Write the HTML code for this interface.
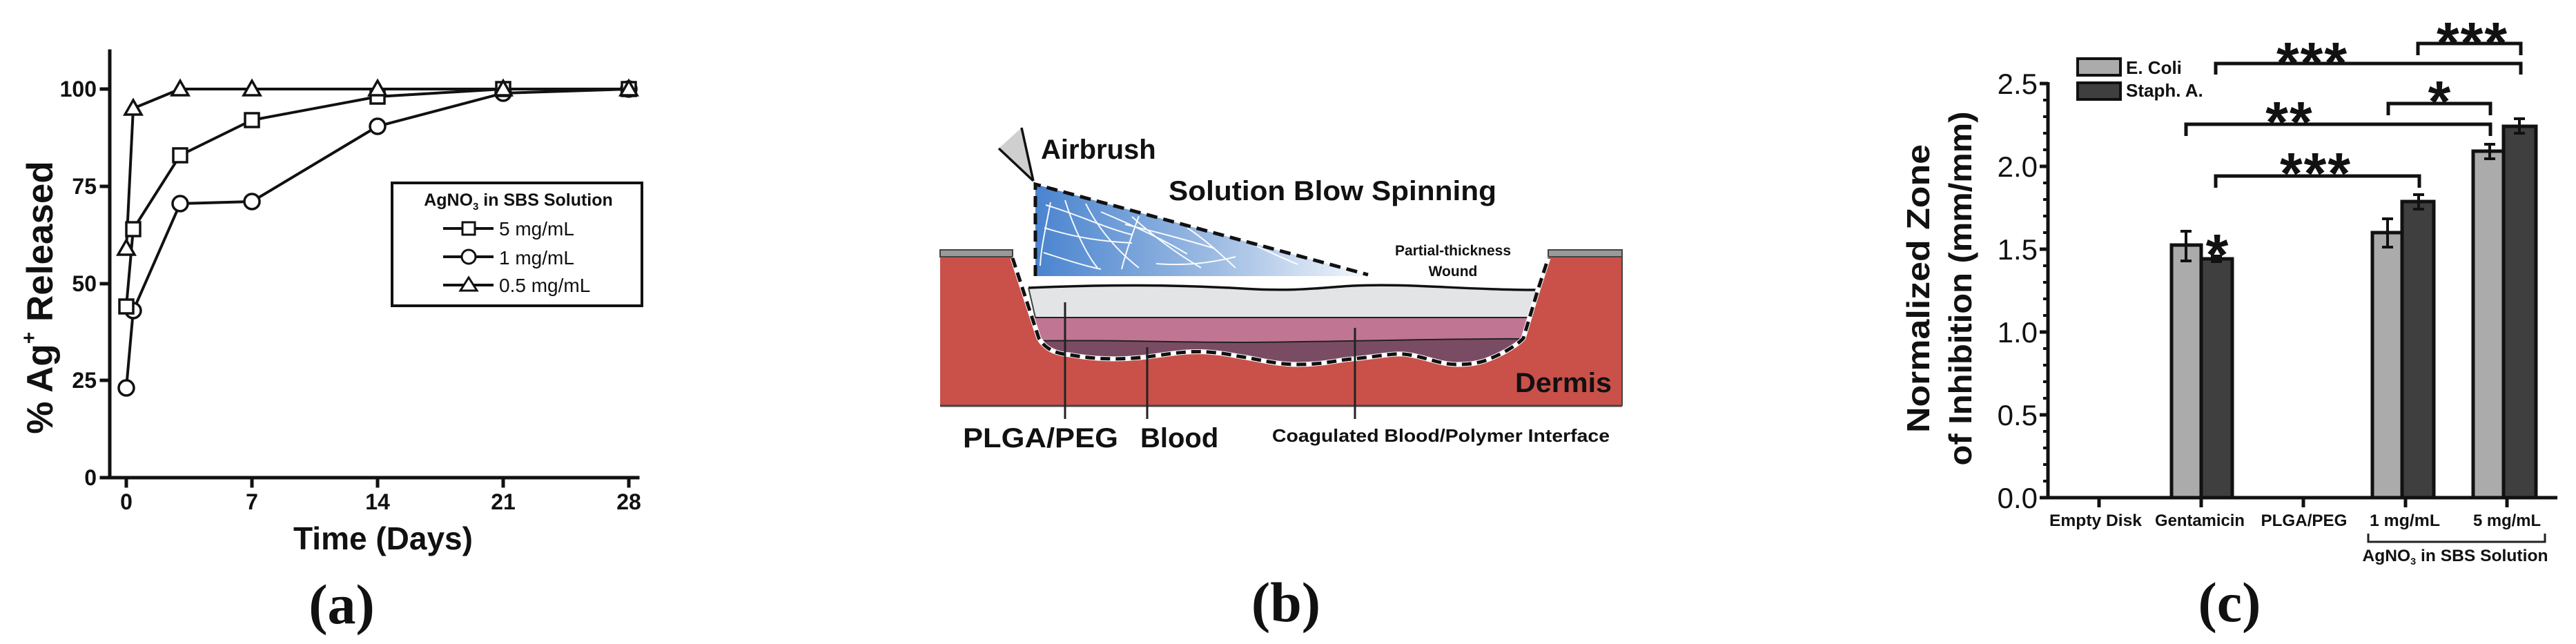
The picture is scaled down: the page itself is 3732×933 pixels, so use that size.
<!DOCTYPE html>
<html><head><meta charset="utf-8"><style>
html,body{margin:0;padding:0;background:#fff;}
svg{display:block;}
text{font-family:"Liberation Sans",Arial,sans-serif;fill:#111;}
.serif{font-family:"Liberation Serif","Times New Roman",serif;font-weight:bold;}
</style></head><body>
<svg width="3732" height="933" viewBox="0 0 3732 933" xmlns="http://www.w3.org/2000/svg">
<defs>
<linearGradient id="blue" x1="1500" y1="0" x2="1982" y2="0" gradientUnits="userSpaceOnUse">
<stop offset="0" stop-color="#4a84cf"/><stop offset="0.55" stop-color="#9fbde3"/><stop offset="1" stop-color="#f4f7fc"/>
</linearGradient>
<clipPath id="layers"><path d="M1490,417 C1600,412 1700,412 1800,418 C1880,423 1920,416 1960,414 C2040,410 2120,420 2225,420 L2207,490 C2200,498 2180,512 2150,523 C2140,526 2130,528 2110,528 C2085,528 2060,515 2033,513 C2015,512 2000,516 1960,520 C1940,521 1920,528 1880,528 C1850,528 1830,522 1800,517 C1790,516 1780,512 1750,510 C1720,508 1700,512 1662,517 C1620,522 1580,520 1550,514 Q1518,512 1505,490 Z"/></clipPath>
</defs>

<!-- ================= PANEL A ================= -->
<g stroke="#111" stroke-width="5" fill="none" stroke-linecap="square">
<line x1="159" y1="74" x2="159" y2="692"/>
<line x1="147" y1="692" x2="924" y2="692"/>
<line x1="147" y1="129" x2="159" y2="129"/>
<line x1="147" y1="270" x2="159" y2="270"/>
<line x1="147" y1="411" x2="159" y2="411"/>
<line x1="147" y1="551" x2="159" y2="551"/>
<line x1="183" y1="692" x2="183" y2="704"/>
<line x1="365" y1="692" x2="365" y2="704"/>
<line x1="547" y1="692" x2="547" y2="704"/>
<line x1="729" y1="692" x2="729" y2="704"/>
<line x1="911" y1="692" x2="911" y2="704"/>
</g>
<g font-size="32" font-weight="bold" text-anchor="end">
<text x="140" y="140">100</text><text x="140" y="281">75</text><text x="140" y="422">50</text><text x="140" y="562">25</text><text x="140" y="703">0</text>
</g>
<g font-size="32" font-weight="bold" text-anchor="middle">
<text x="183" y="738">0</text><text x="365" y="738">7</text><text x="547" y="738">14</text><text x="729" y="738">21</text><text x="911" y="738">28</text>
</g>
<text x="555" y="796" font-size="46" font-weight="bold" text-anchor="middle">Time (Days)</text>
<text transform="translate(76,431) rotate(-90)" font-size="53" font-weight="bold" text-anchor="middle">% Ag<tspan font-size="30" dy="-24">+</tspan><tspan dy="24"> Released</tspan></text>

<g stroke="#111" stroke-width="4" fill="none">
<polyline points="183,562 193,450 261,295 365,292 547,183 729,135 911,129"/>
<polyline points="183,444 193,332 261,225 365,174 547,140 729,129 911,129"/>
<polyline points="183,360 193,157 261,129 365,129 547,129 729,129 911,129"/>
</g>
<g stroke="#111" stroke-width="3.5" fill="#fff">
<circle cx="183" cy="562" r="11"/><circle cx="193" cy="450" r="11"/><circle cx="261" cy="295" r="11"/><circle cx="365" cy="292" r="11"/><circle cx="547" cy="183" r="11"/><circle cx="729" cy="135" r="11"/><circle cx="911" cy="129" r="11"/>
<rect x="173" y="434" width="20" height="20"/><rect x="183" y="322" width="20" height="20"/><rect x="251" y="215" width="20" height="20"/><rect x="355" y="164" width="20" height="20"/><rect x="537" y="130" width="20" height="20"/><rect x="719" y="119" width="20" height="20"/><rect x="901" y="119" width="20" height="20"/>
<polygon points="183,348 195,369 171,369"/><polygon points="193,145 205,166 181,166"/><polygon points="261,117 273,138 249,138"/><polygon points="365,117 377,138 353,138"/><polygon points="547,117 559,138 535,138"/><polygon points="729,117 741,138 717,138"/><polygon points="911,117 923,138 899,138"/>
</g>
<!-- legend -->
<rect x="568" y="265" width="362" height="178" fill="#fff" stroke="#111" stroke-width="4"/>
<text x="751" y="298" font-size="25" font-weight="bold" text-anchor="middle">AgNO<tspan font-size="15" dy="6">3</tspan><tspan dy="-6"> in SBS Solution</tspan></text>
<g stroke="#111" stroke-width="4"><line x1="642" y1="331" x2="715" y2="331"/><line x1="642" y1="372" x2="715" y2="372"/><line x1="642" y1="413" x2="715" y2="413"/></g>
<g stroke="#111" stroke-width="3" fill="#fff"><rect x="670" y="322" width="18" height="18"/><circle cx="679" cy="372" r="10"/><polygon points="679,402 691,421 667,421"/></g>
<g font-size="28"><text x="723" y="341">5 mg/mL</text><text x="723" y="383">1 mg/mL</text><text x="723" y="423">0.5 mg/mL</text></g>
<text x="495" y="903" class="serif" font-size="82" text-anchor="middle">(a)</text>

<!-- ================= PANEL B ================= -->
<rect x="1362" y="372" width="988" height="216" fill="#c9514a"/>
<line x1="1362" y1="588" x2="2350" y2="588" stroke="#444" stroke-width="3"/>
<line x1="2350" y1="362" x2="2350" y2="588" stroke="#444" stroke-width="2"/>
<rect x="1362" y="362" width="105" height="10" fill="#9a9a9a" stroke="#444" stroke-width="2"/>
<rect x="2243" y="362" width="107" height="10" fill="#9a9a9a" stroke="#444" stroke-width="2"/>
<path d="M1467,372 L1505,490 Q1518,512 1550,514 C1580,520 1620,522 1662,517 C1700,512 1720,508 1750,510 C1780,512 1790,516 1800,517 C1830,522 1850,528 1880,528 C1920,528 1940,521 1960,520 C2000,516 2015,512 2033,513 C2060,515 2085,528 2110,528 C2130,528 2140,526 2150,523 C2180,512 2200,498 2207,490 L2228,420 L2243,372 Z" fill="#fff"/>
<g clip-path="url(#layers)">
<rect x="1480" y="400" width="760" height="140" fill="#7a4c64"/>
<path d="M1480,400 L2240,400 L2240,492 C2100,490 1900,496 1800,496 C1700,496 1600,492 1480,494 Z" fill="#c07593"/>
<rect x="1480" y="400" width="760" height="60" fill="#e3e4e6"/>
</g>
<g fill="none" stroke="#222" stroke-width="2">
<line x1="1500" y1="460" x2="2218" y2="460"/>
<path d="M1505,494 C1600,492 1700,496 1800,496 C1900,496 2100,490 2205,491"/>
</g>
<path d="M1490,417 C1600,412 1700,412 1800,418 C1880,423 1920,416 1960,414 C2040,410 2120,420 2225,420" fill="none" stroke="#111" stroke-width="3.5"/>
<path d="M1490,417 L1500,460 M2225,420 L2212,470" fill="none" stroke="#444" stroke-width="2"/>
<path d="M1467,374 L1505,490 Q1518,512 1550,514 C1580,520 1620,522 1662,517 C1700,512 1720,508 1750,510 C1780,512 1790,516 1800,517 C1830,522 1850,528 1880,528 C1920,528 1940,521 1960,520 C2000,516 2015,512 2033,513 C2060,515 2085,528 2110,528 C2130,528 2140,526 2150,523 C2180,512 2200,498 2207,490 L2228,420 L2243,374" fill="none" stroke="#fff" stroke-width="7"/>
<path d="M1467,374 L1505,490 Q1518,512 1550,514 C1580,520 1620,522 1662,517 C1700,512 1720,508 1750,510 C1780,512 1790,516 1800,517 C1830,522 1850,528 1880,528 C1920,528 1940,521 1960,520 C2000,516 2015,512 2033,513 C2060,515 2085,528 2110,528 C2130,528 2140,526 2150,523 C2180,512 2200,498 2207,490 L2228,420 L2243,374" fill="none" stroke="#111" stroke-width="5" stroke-dasharray="14 8"/>
<polygon points="1500,267 1982,398 1982,400 1500,400" fill="url(#blue)"/>
<g fill="none" stroke="#fff" stroke-width="2" opacity="0.95">
<path d="M1515,297 C1560,310 1600,330 1640,340"/>
<path d="M1513,330 C1560,345 1600,350 1640,352"/>
<path d="M1522,293 C1515,330 1508,360 1507,385"/>
<path d="M1543,290 C1555,330 1575,370 1590,388"/>
<path d="M1573,295 C1590,330 1620,365 1650,388"/>
<path d="M1595,307 C1650,330 1690,350 1720,368"/>
<path d="M1512,366 C1540,375 1570,385 1595,390"/>
<path d="M1650,313 C1640,340 1630,370 1625,390"/>
<path d="M1640,314 C1680,350 1710,370 1740,388"/>
<path d="M1675,382 C1710,385 1750,382 1790,372"/>
<path d="M1720,330 C1750,350 1770,370 1790,388"/>
<path d="M1810,352 C1840,365 1860,375 1880,383"/>
<path d="M1630,325 C1670,335 1710,345 1760,360"/>
</g>
<path d="M1500,400 L1500,267 L1982,398" fill="none" stroke="#111" stroke-width="5" stroke-dasharray="16 9"/>
<polygon points="1447,215 1480,185 1497,262" fill="#cfcfcf"/>
<g stroke="#111" stroke-width="3.5" fill="none"><line x1="1480" y1="185" x2="1497" y2="262"/><line x1="1447" y1="215" x2="1497" y2="262"/></g>
<g stroke="#222" stroke-width="3"><line x1="1543" y1="438" x2="1543" y2="607"/><line x1="1662" y1="503" x2="1662" y2="607"/><line x1="1963" y1="475" x2="1963" y2="607"/></g>
<g font-weight="bold" fill="#222">
<text x="1508" y="230" font-size="40">Airbrush</text>
<text x="1693" y="290" font-size="40" textLength="475" lengthAdjust="spacingAndGlyphs">Solution Blow Spinning</text>
<text x="2105" y="370" font-size="21" text-anchor="middle">Partial-thickness</text>
<text x="2105" y="400" font-size="21" text-anchor="middle">Wound</text>
<text x="2195" y="568" font-size="40" textLength="140" lengthAdjust="spacingAndGlyphs">Dermis</text>
<text x="1395" y="648" font-size="40" textLength="225" lengthAdjust="spacingAndGlyphs">PLGA/PEG</text>
<text x="1652" y="648" font-size="40">Blood</text>
<text x="1843" y="640" font-size="26" textLength="489" lengthAdjust="spacingAndGlyphs">Coagulated Blood/Polymer Interface</text>
</g>
<text x="1863" y="900" class="serif" font-size="82" text-anchor="middle">(b)</text>

<!-- ================= PANEL C ================= -->
<g stroke="#111" stroke-width="5">
<rect x="3146" y="355" width="43" height="366" fill="#ababab"/>
<rect x="3189" y="375" width="45" height="346" fill="#3f3f3f"/>
<rect x="3437" y="337" width="43" height="384" fill="#ababab"/>
<rect x="3480" y="292" width="46" height="429" fill="#3f3f3f"/>
<rect x="3583" y="219" width="44" height="502" fill="#ababab"/>
<rect x="3627" y="183" width="47" height="538" fill="#3f3f3f"/>
</g>
<g stroke="#111" stroke-width="4">
<line x1="3167" y1="335" x2="3167" y2="378"/><line x1="3159" y1="335" x2="3175" y2="335"/><line x1="3159" y1="378" x2="3175" y2="378"/>
<line x1="3211" y1="371" x2="3211" y2="379"/><line x1="3203" y1="371" x2="3219" y2="371"/><line x1="3203" y1="379" x2="3219" y2="379"/>
<line x1="3459" y1="317" x2="3459" y2="358"/><line x1="3451" y1="317" x2="3467" y2="317"/><line x1="3451" y1="358" x2="3467" y2="358"/>
<line x1="3504" y1="282" x2="3504" y2="303"/><line x1="3496" y1="282" x2="3512" y2="282"/><line x1="3496" y1="303" x2="3512" y2="303"/>
<line x1="3607" y1="209" x2="3607" y2="230"/><line x1="3599" y1="209" x2="3615" y2="209"/><line x1="3599" y1="230" x2="3615" y2="230"/>
<line x1="3650" y1="172" x2="3650" y2="193"/><line x1="3642" y1="172" x2="3658" y2="172"/><line x1="3642" y1="193" x2="3658" y2="193"/>
</g>
<g stroke="#111" stroke-width="5" fill="none">
<line x1="2967" y1="119" x2="2967" y2="721"/>
<line x1="2955" y1="721" x2="3705" y2="721"/>
<line x1="2955" y1="121" x2="2967" y2="121"/><line x1="2955" y1="241" x2="2967" y2="241"/><line x1="2955" y1="361" x2="2967" y2="361"/><line x1="2955" y1="481" x2="2967" y2="481"/><line x1="2955" y1="601" x2="2967" y2="601"/>
<line x1="3041" y1="721" x2="3041" y2="735"/><line x1="3189" y1="721" x2="3189" y2="735"/><line x1="3337" y1="721" x2="3337" y2="735"/><line x1="3485" y1="721" x2="3485" y2="735"/><line x1="3632" y1="721" x2="3632" y2="735"/>
</g>
<g stroke="#111" stroke-width="4">
<line x1="2960" y1="145" x2="2967" y2="145"/><line x1="2960" y1="169" x2="2967" y2="169"/><line x1="2960" y1="193" x2="2967" y2="193"/><line x1="2960" y1="217" x2="2967" y2="217"/>
<line x1="2960" y1="265" x2="2967" y2="265"/><line x1="2960" y1="289" x2="2967" y2="289"/><line x1="2960" y1="313" x2="2967" y2="313"/><line x1="2960" y1="337" x2="2967" y2="337"/>
<line x1="2960" y1="385" x2="2967" y2="385"/><line x1="2960" y1="409" x2="2967" y2="409"/><line x1="2960" y1="433" x2="2967" y2="433"/><line x1="2960" y1="457" x2="2967" y2="457"/>
<line x1="2960" y1="505" x2="2967" y2="505"/><line x1="2960" y1="529" x2="2967" y2="529"/><line x1="2960" y1="553" x2="2967" y2="553"/><line x1="2960" y1="577" x2="2967" y2="577"/>
<line x1="2960" y1="625" x2="2967" y2="625"/><line x1="2960" y1="649" x2="2967" y2="649"/><line x1="2960" y1="673" x2="2967" y2="673"/><line x1="2960" y1="697" x2="2967" y2="697"/>
</g>
<g font-size="42" text-anchor="end" fill="#222">
<text x="2952" y="136">2.5</text><text x="2952" y="256">2.0</text><text x="2952" y="376">1.5</text><text x="2952" y="496">1.0</text><text x="2952" y="616">0.5</text><text x="2952" y="736">0.0</text>
</g>
<text transform="translate(2795,418) rotate(-90)" font-size="46" font-weight="bold" text-anchor="middle" textLength="418" lengthAdjust="spacingAndGlyphs">Normalized Zone</text>
<text transform="translate(2856,418) rotate(-90)" font-size="46" font-weight="bold" text-anchor="middle" textLength="513" lengthAdjust="spacingAndGlyphs">of Inhibition (mm/mm)</text>
<rect x="3010" y="85" width="62" height="24" fill="#ababab" stroke="#111" stroke-width="4"/>
<rect x="3010" y="120" width="62" height="24" fill="#3f3f3f" stroke="#111" stroke-width="4"/>
<g font-size="26" font-weight="bold"><text x="3080" y="107">E. Coli</text><text x="3080" y="140">Staph. A.</text></g>
<g font-size="24" font-weight="bold" text-anchor="middle" fill="#222">
<text x="3036" y="762" textLength="134" lengthAdjust="spacingAndGlyphs">Empty Disk</text>
<text x="3187" y="762" textLength="130" lengthAdjust="spacingAndGlyphs">Gentamicin</text>
<text x="3338" y="762" textLength="125" lengthAdjust="spacingAndGlyphs">PLGA/PEG</text>
<text x="3484" y="762" textLength="102" lengthAdjust="spacingAndGlyphs">1 mg/mL</text>
<text x="3632" y="762" textLength="98" lengthAdjust="spacingAndGlyphs">5 mg/mL</text>
</g>
<path d="M3431,773 L3431,785 L3687,785 L3687,773" fill="none" stroke="#222" stroke-width="3"/>
<text x="3557" y="813" font-size="24" font-weight="bold" text-anchor="middle" fill="#222" textLength="269" lengthAdjust="spacingAndGlyphs">AgNO<tspan font-size="14" dy="5">3</tspan><tspan dy="-5"> in SBS Solution</tspan></text>
<g stroke="#111" stroke-width="5" fill="none">
<path d="M3503,80 L3503,63 L3652,63 L3652,80"/>
<path d="M3210,108 L3210,92 L3652,92 L3652,108"/>
<path d="M3460,167 L3460,150 L3608,150 L3608,167"/>
<path d="M3167,197 L3167,180 L3608,180 L3608,197"/>
<path d="M3210,272 L3210,255 L3505,255 L3505,272"/>
</g>
<g font-size="84" font-weight="bold" text-anchor="middle" letter-spacing="2">
<text x="3582" y="91">***</text>
<text x="3350" y="120">***</text>
<text x="3535" y="176">*</text>
<text x="3317" y="206">**</text>
<text x="3355" y="280">***</text>
<text x="3213" y="398">*</text>
</g>
<text x="3230" y="900" class="serif" font-size="82" text-anchor="middle">(c)</text>
</svg>
</body></html>
